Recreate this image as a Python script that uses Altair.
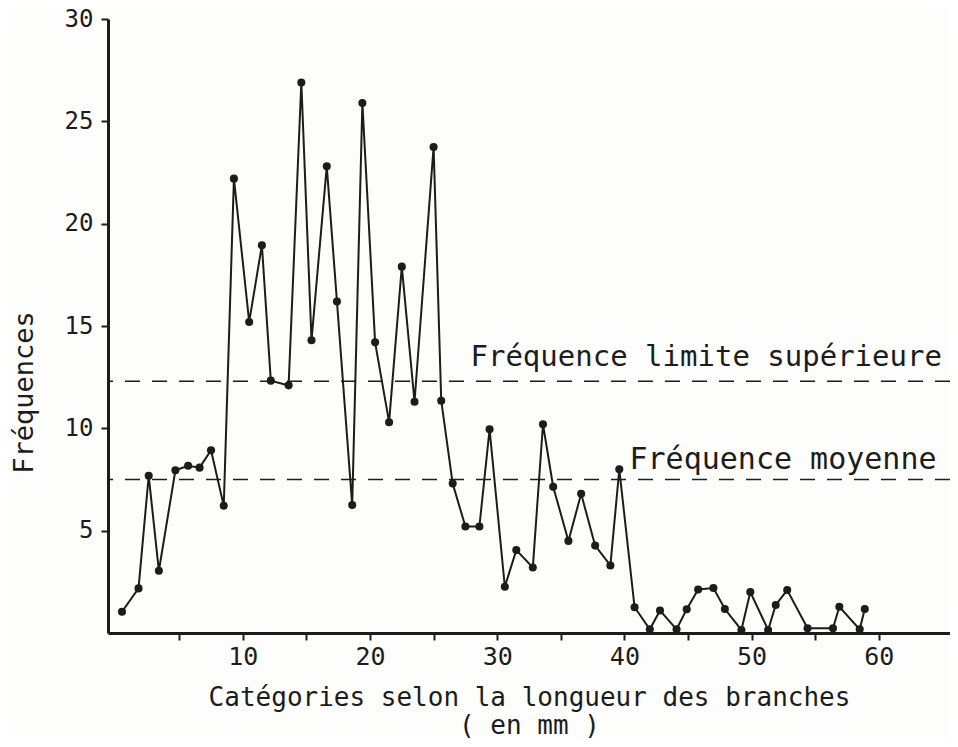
import altair as alt
import pandas as pd

# Category positions (mm) and frequencies
categories = [0.5, 1.8, 2.6, 3.4, 4.7, 5.7, 6.6, 7.5, 8.5, 9.3,
              10.5, 11.5, 12.2, 13.6, 14.6, 15.4, 16.6, 17.4, 18.6, 19.4,
              20.4, 21.5, 22.5, 23.5, 25.0, 25.6, 26.5, 27.5, 28.6, 29.4,
              30.6, 31.5, 32.8, 33.6, 34.4, 35.6, 36.6, 37.7, 38.9, 39.6,
              40.8, 42.0, 42.8, 44.1, 44.9, 45.8, 47.0, 47.9, 49.2, 49.9,
              51.3, 51.9, 52.8, 54.4, 56.4, 56.9, 58.5, 58.9]
frequencies = [1.04, 2.18, 7.68, 3.04, 7.95, 8.17, 8.08, 8.93, 6.22, 22.2,
               15.2, 18.95, 12.33, 12.1, 26.9, 14.3, 22.8, 16.2, 6.25, 25.9,
               14.2, 10.3, 17.9, 11.3, 23.75, 11.35, 7.3, 5.2, 5.2, 9.95,
               2.26, 4.05, 3.2, 10.2, 7.15, 4.5, 6.8, 4.27, 3.3, 8.0,
               1.26, 0.18, 1.1, 0.18, 1.16, 2.13, 2.2, 1.17, 0.15, 2.0,
               0.15, 1.37, 2.1, 0.23, 0.23, 1.28, 0.18, 1.17]

ref_levels = [12.3, 7.5]
ref_names = ["Fréquence limite supérieure", "Fréquence moyenne"]
ref_label_x = [27.9, 40.4]
ref_label_y = [13.05, 8.0]
ref_label_size = [29, 30]

x_ticks = list(range(5, 61, 5))
y_ticks = [5, 10, 15, 20, 25, 30]

FONT = "DejaVu Sans Mono"
INK = "#1c1c1c"

df = pd.DataFrame({"cat": categories, "freq": frequencies})
ref = pd.DataFrame({"level": ref_levels})
labels = pd.DataFrame({"x": ref_label_x, "y": ref_label_y,
                       "name": ref_names, "size": ref_label_size})

x_scale = alt.Scale(domain=[-0.6, 65.6], nice=False, zero=False)
y_scale = alt.Scale(domain=[0, 30], nice=False)

x_axis = alt.Axis(
    values=x_ticks,
    labelExpr="datum.value % 10 == 0 ? datum.label : ''",
    grid=False,
    domainWidth=3, domainColor=INK,
    tickColor=INK, tickWidth=2, tickSize=7,
    labelFont=FONT, labelFontSize=25, labelColor=INK, labelPadding=4,
    title=["Catégories selon la longueur des branches", "( en mm )"],
    titleFont=FONT, titleFontSize=26, titleFontWeight="normal", titleColor=INK,
    titleBaseline="alphabetic", titleAlign="center",
    titleY=72, titleLineHeight=28,
)
y_axis = alt.Axis(
    values=y_ticks,
    grid=False,
    domainWidth=3, domainColor=INK,
    tickColor=INK, tickWidth=2, tickSize=7,
    labelFont=FONT, labelFontSize=24, labelColor=INK, labelPadding=8,
    title="Fréquences",
    titleFont=FONT, titleFontSize=27, titleFontWeight="normal", titleColor=INK,
    titleAngle=270, titleAlign="center", titleBaseline="middle",
    titleX=-84, titleY=373,
)

line = alt.Chart(df).mark_line(color=INK, strokeWidth=2).encode(
    x=alt.X("cat:Q", scale=x_scale, axis=x_axis),
    y=alt.Y("freq:Q", scale=y_scale, axis=y_axis),
)
points = alt.Chart(df).mark_point(filled=True, color=INK, size=65, opacity=1).encode(
    x=alt.X("cat:Q", scale=x_scale),
    y=alt.Y("freq:Q", scale=y_scale),
)
rules = alt.Chart(ref).mark_rule(color=INK, strokeWidth=1.6, strokeDash=[15, 12]).encode(
    y=alt.Y("level:Q", scale=y_scale),
)
texts = alt.Chart(labels).mark_text(
    align="left", baseline="alphabetic", font=FONT, color=INK
).encode(
    x=alt.X("x:Q", scale=x_scale),
    y=alt.Y("y:Q", scale=y_scale),
    text="name:N",
    size=alt.Size("size:Q", scale=None, legend=None),
)

chart = alt.layer(rules, line, points, texts).properties(
    width=842, height=614,
    autosize=alt.AutoSizeParams(type="none"),
    padding={"left": 100, "top": 11, "right": 0, "bottom": 106},
    background="#fdfdfb",
).configure_view(stroke=None)

chart.save("out.html", embed_options={"renderer": "svg", "actions": False})
